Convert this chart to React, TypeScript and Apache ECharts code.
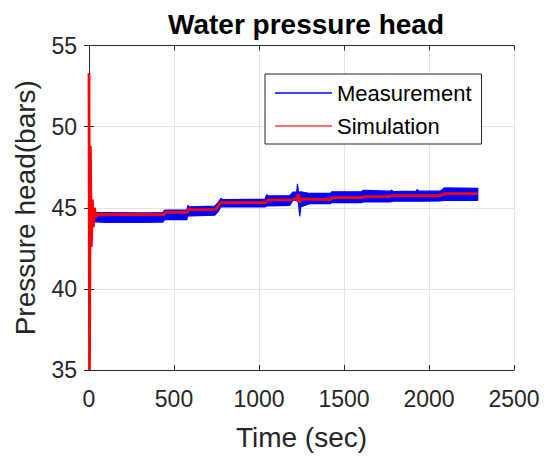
import React, { useEffect, useRef } from "react";
import * as echarts from "echarts";

// Measurement: noisy band read as lower / upper envelope (bars) over time (sec)
const measurementTime = [5, 10, 100, 300, 435, 445, 575, 582, 592, 740, 762, 775, 790, 1035, 1046, 1055, 1180, 1200, 1222, 1226, 1232, 1240, 1246, 1300, 1420, 1428, 1605, 1612, 1770, 1780, 1790, 1925, 1930, 1940, 2065, 2090, 2287];
const measurementLow = [44.6, 44.15, 44.1, 44.1, 44.12, 44.27, 44.27, 44.5, 44.5, 44.54, 44.8, 45.05, 45.05, 45.05, 45.11, 45.11, 45.15, 45.46, 45.46, 45.4, 45.3, 44.5, 45.05, 45.26, 45.26, 45.32, 45.32, 45.36, 45.36, 45.38, 45.4, 45.4, 45.4, 45.4, 45.42, 45.46, 45.46];
const measurementHigh = [45.1, 44.7, 44.7, 44.68, 44.7, 44.85, 44.85, 45.15, 45.05, 45.1, 45.35, 45.57, 45.5, 45.52, 45.8, 45.73, 45.75, 45.96, 45.96, 46.45, 46.0, 45.95, 45.98, 45.88, 45.88, 45.98, 45.98, 46.08, 46.02, 46.08, 46.0, 46.02, 46.12, 46.02, 46.02, 46.22, 46.2];

// Simulation (bars) over time (sec)
const simulationTime = [0, 3, 8, 14, 20, 26, 32, 40, 50, 440, 450, 578, 590, 600, 745, 775, 1040, 1050, 1200, 1225, 1230, 1238, 1245, 1420, 1428, 1605, 1612, 1770, 1780, 2070, 2095, 2287];
const simulationValue = [53.3, 35.0, 48.8, 42.6, 45.5, 43.8, 45.0, 44.4, 44.6, 44.58, 44.72, 44.72, 44.95, 44.88, 44.9, 45.32, 45.32, 45.48, 45.5, 45.6, 45.85, 45.3, 45.55, 45.5, 45.62, 45.62, 45.68, 45.7, 45.75, 45.75, 45.87, 45.87];

const xTicks = { min: 0, max: 2500, interval: 500 };
const yTicks = { min: 35, max: 55, interval: 5 };

const FONT = "'Liberation Sans', Arial, Helvetica, sans-serif";
const AX = "#262626";

export default function App() {
  const ref = useRef<HTMLDivElement>(null);
  useEffect(() => {
    document.body.style.margin = "0";
    if (!ref.current) return;
    const chart = echarts.init(ref.current, null, { renderer: "svg" });
    const band = measurementTime.map((t, i) => [t, measurementLow[i], measurementHigh[i]]);
    const sim = simulationTime.map((t, i) => [t, simulationValue[i]]);
    const baseAxis = {
      axisLine: { show: true, lineStyle: { color: AX, width: 1 } },
      axisTick: { show: true, inside: true, length: 5, lineStyle: { color: AX } },
    };
    chart.setOption({
      animation: false,
      backgroundColor: "#ffffff",
      title: {
        text: "Water pressure head",
        left: 301,
        textAlign: "center",
        top: 5,
        textStyle: { fontFamily: FONT, fontSize: 28, fontWeight: "bold", color: "#000" },
      },
      grid: { left: 89, right: 38, top: 45.5, bottom: 86 },
      legend: {
        left: 265,
        top: 74,
        orient: "vertical",
        padding: [8, 10, 7, 10],
        itemGap: 11,
        itemWidth: 57,
        itemHeight: 1.6,
        icon: "rect",
        borderColor: AX,
        borderWidth: 1,
        borderRadius: 0,
        backgroundColor: "#fff",
        textStyle: { fontFamily: FONT, fontSize: 22, color: "#000" },
        data: [
          { name: "Measurement", itemStyle: { color: "#0000ff" } },
          { name: "Simulation", itemStyle: { color: "#ff4040" } },
        ],
      },
      xAxis: [
        {
          type: "value",
          ...xTicks,
          ...baseAxis,
          position: "bottom",
          name: "Time (sec)",
          nameLocation: "middle",
          nameGap: 53,
          nameTextStyle: { fontFamily: FONT, fontSize: 28, color: AX },
          axisLabel: { fontFamily: FONT, fontSize: 23, color: AX, margin: 17, formatter: (v: number) => String(v) },
          splitLine: { show: true, lineStyle: { color: "#e3e3e3", width: 1 } },
        },
        {
          type: "value",
          ...xTicks,
          ...baseAxis,
          position: "top",
          axisLabel: { show: false },
          splitLine: { show: false },
        },
      ],
      yAxis: [
        {
          type: "value",
          ...yTicks,
          ...baseAxis,
          position: "left",
          name: "Pressure head(bars)",
          nameLocation: "middle",
          nameGap: 50,
          nameTextStyle: { fontFamily: FONT, fontSize: 28, color: AX },
          axisLabel: { fontFamily: FONT, fontSize: 23, color: AX, margin: 12, formatter: (v: number) => String(v) },
          splitLine: { show: true, lineStyle: { color: "#e3e3e3", width: 1 } },
        },
        {
          type: "value",
          ...yTicks,
          ...baseAxis,
          position: "right",
          axisLabel: { show: false },
          splitLine: { show: false },
        },
      ],
      series: [
        {
          name: "Measurement",
          type: "custom",
          data: band,
          encode: { x: 0, y: [1, 2] },
          clip: true,
          itemStyle: { color: "#0000ff" },
          z: 2,
          renderItem: (params: any, api: any) => {
            if (params.dataIndex !== 0) return null;
            const upper = band.map((d) => api.coord([d[0], d[2]]));
            const lower = band.map((d) => api.coord([d[0], d[1]])).reverse();
            return {
              type: "polygon",
              shape: { points: upper.concat(lower) },
              style: { fill: "#0000ff", stroke: "#0000ff", lineWidth: 1.2, lineJoin: "round" },
            };
          },
        },
        {
          name: "Simulation",
          type: "line",
          data: sim,
          symbol: "none",
          lineStyle: { color: "#ff0000", width: 2.8 },
          itemStyle: { color: "#ff0000" },
          z: 3,
        },
      ],
    });
    return () => chart.dispose();
  }, []);
  return <div ref={ref} style={{ width: 552, height: 456 }} />;
}
